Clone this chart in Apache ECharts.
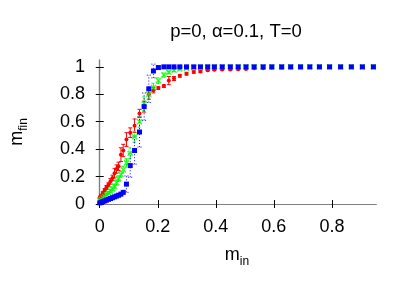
<!DOCTYPE html>
<html>
<head>
<meta charset="utf-8">
<script src="https://cdn.jsdelivr.net/npm/echarts@6/dist/echarts.min.js"></script>
<style>html,body{margin:0;padding:0;background:#fff;}#c{width:411px;height:288px;}</style>
</head>
<body>
<div id="c"></div>
<script>
const mIn = [0, 0.005, 0.011, 0.017, 0.023, 0.03, 0.037, 0.044, 0.051, 0.058, 0.065, 0.073, 0.081, 0.092, 0.105, 0.12, 0.137, 0.153, 0.169, 0.185, 0.202, 0.221, 0.238, 0.256, 0.276, 0.299, 0.324, 0.347, 0.372, 0.395, 0.422, 0.45, 0.477, 0.504, 0.532, 0.563, 0.593, 0.627, 0.658, 0.692, 0.724, 0.757, 0.792, 0.83, 0.867, 0.905, 0.943];
const mRed = [0.05, 0.062, 0.08, 0.1, 0.12, 0.14, 0.165, 0.19, 0.225, 0.255, 0.275, 0.36, 0.39, 0.47, 0.52, 0.57, 0.66, 0.71, 0.8, 0.83, 0.845, 0.86, 0.9, 0.915, 0.935, 0.95, 0.962, 0.966, 0.975, 0.978, 0.98, 0.98, 0.983, 0.985, 0.99, 0.99, 0.993, 0.993, 0.995, 0.995, 0.997, 0.997, 0.998, 0.998, 0.999, 0.999, 1.0];
const errRed = [0.005, 0.008, 0.01, 0.012, 0.015, 0.015, 0.02, 0.02, 0.035, 0.03, 0.03, 0.05, 0.045, 0.05, 0.035, 0.05, 0.03, 0.04, 0.036, 0.02, 0.01, 0.01, 0.03, 0.015, 0.01, 0.01, 0.008, 0.008, 0.005, 0.005, 0.005, 0.005, 0.005, 0.005, 0.003, 0.003, 0.003, 0.003, 0.002, 0.002, 0.002, 0.002, 0.001, 0.001, 0.001, 0.001, 0];
const mGreen = [0.025, 0.035, 0.045, 0.055, 0.068, 0.08, 0.095, 0.11, 0.13, 0.155, 0.185, 0.215, 0.25, 0.3, 0.37, 0.49, 0.6, 0.73, 0.8, 0.85, 0.9, 0.94, 0.96, 0.975, 0.985, 0.99, 0.995, 0.997, 0.998, 0.998, 0.999, 0.999, 0.999, 1, 1, 1, 1, 1, 1, 1, 1, 1, 1, 1, 1, 1, 1];
const errGreen = [0.003, 0.005, 0.005, 0.008, 0.01, 0.01, 0.012, 0.015, 0.015, 0.02, 0.02, 0.02, 0.025, 0.03, 0.04, 0.04, 0.04, 0.05, 0.04, 0.03, 0.02, 0.015, 0.01, 0.01, 0.005, 0.005, 0.003, 0.002, 0, 0, 0, 0, 0, 0, 0, 0, 0, 0, 0, 0, 0, 0, 0, 0, 0, 0, 0];
const mBlue = [0.008, 0.012, 0.018, 0.023, 0.028, 0.034, 0.04, 0.046, 0.052, 0.058, 0.064, 0.072, 0.085, 0.145, 0.28, 0.39, 0.525, 0.71, 0.84, 0.97, 0.995, 1, 1, 1, 1, 1, 1, 1, 1, 1, 1, 1, 1, 1, 1, 1, 1, 1, 1, 1, 1, 1, 1, 1, 1, 1, 1];
const errBlue = [0.003, 0.003, 0.004, 0.004, 0.005, 0.005, 0.005, 0.006, 0.006, 0.007, 0.007, 0.008, 0.01, 0.06, 0.085, 0.1, 0.11, 0.1, 0.1, 0.05, 0.01, 0, 0, 0, 0, 0, 0, 0, 0, 0, 0, 0, 0, 0, 0, 0, 0, 0, 0, 0, 0, 0, 0, 0, 0, 0, 0];
const xTicks = [0, 0.2, 0.4, 0.6, 0.8];
const yTicks = [0, 0.2, 0.4, 0.6, 0.8, 1];
const titleText = 'p=0, \u03b1=0.1, T=0';

const FONT = 'Liberation Sans, Arial, Helvetica, sans-serif';
const X_MIN = -0.006, X_MAX = 0.952, Y_MIN = 0, Y_MAX = 1.05;

function errSeries(ys, es, color, dash) {
  return {
    type: 'custom', xAxisIndex: 0, yAxisIndex: 0, clip: true, silent: true,
    data: mIn.map((x, i) => [x, ys[i] - es[i], ys[i] + es[i], es[i]]),
    renderItem: function (params, api) {
      if (api.value(3) <= 0) return { type: 'group', children: [] };
      const x = api.value(0);
      const lo = api.coord([x, api.value(1)]);
      const hi = api.coord([x, api.value(2)]);
      const w = 2;
      const st = { stroke: color, lineWidth: 1, lineDash: dash };
      return { type: 'group', children: [
        { type: 'line', shape: { x1: lo[0], y1: lo[1], x2: hi[0], y2: hi[1] }, style: st },
        { type: 'line', shape: { x1: lo[0] - w, y1: lo[1], x2: lo[0] + w, y2: lo[1] }, style: st },
        { type: 'line', shape: { x1: hi[0] - w, y1: hi[1], x2: hi[0] + w, y2: hi[1] }, style: st }
      ] };
    }
  };
}
function pts(ys, color, symbol, size, extra) {
  return Object.assign({
    type: 'scatter', xAxisIndex: 0, yAxisIndex: 0,
    data: mIn.map((x, i) => [x, ys[i]]),
    symbol: symbol, symbolSize: size,
    itemStyle: { color: color, opacity: 1 }
  }, extra || {});
}
const nameRich = {
  a: { fontSize: 18, fontFamily: FONT, color: '#000', lineHeight: 26, verticalAlign: 'middle' },
  b: { fontSize: 12, fontFamily: FONT, color: '#000', lineHeight: 12, verticalAlign: 'bottom' }
};

const axisLineStyle = { color: '#7f7f7f', width: 1.2 };
const chart = echarts.init(document.getElementById('c'), null, { renderer: 'canvas' });
chart.setOption({
  animation: false,
  backgroundColor: '#fff',
  grid: { left: 97, right: 35, top: 60, bottom: 84 },
  graphic: [{
    type: 'text', x: 236, y: 32,
    style: { text: titleText, textAlign: 'center', textVerticalAlign: 'middle', font: '18.5px ' + FONT, fill: '#000' }
  }],
  xAxis: [{
    type: 'value', min: X_MIN, max: X_MAX, position: 'bottom',
    axisLine: { show: true, lineStyle: axisLineStyle },
    axisTick: { show: true, inside: true, length: 4, customValues: xTicks, lineStyle: { color: '#000' } },
    axisLabel: { show: true, customValues: xTicks, margin: 14, fontSize: 18, fontFamily: FONT, color: '#000', formatter: v => String(+v.toFixed(1)) },
    splitLine: { show: false },
    name: '{a|m}{b|in}', nameLocation: 'middle', nameGap: 38,
    nameTextStyle: { rich: nameRich }
  }, {
    type: 'value', min: X_MIN, max: X_MAX, position: 'top',
    axisLine: { show: true, lineStyle: axisLineStyle },
    axisTick: { show: true, inside: true, length: 4, customValues: xTicks, lineStyle: { color: '#000' } },
    axisLabel: { show: false }, splitLine: { show: false }
  }],
  yAxis: [{
    type: 'value', min: Y_MIN, max: Y_MAX, position: 'left',
    axisLine: { show: true, lineStyle: axisLineStyle },
    axisTick: { show: true, inside: true, length: 4, customValues: yTicks, lineStyle: { color: '#000' } },
    axisLabel: { show: true, customValues: yTicks, margin: 13, fontSize: 18, fontFamily: FONT, color: '#000', formatter: v => String(+v.toFixed(1)) },
    splitLine: { show: false },
    name: '{a|m}{b|fin}', nameLocation: 'middle', nameGap: 68, nameRotate: 90,
    nameTextStyle: { rich: nameRich }
  }, {
    type: 'value', min: Y_MIN, max: Y_MAX, position: 'right',
    axisLine: { show: true, lineStyle: axisLineStyle },
    axisTick: { show: true, inside: true, length: 4, customValues: yTicks, lineStyle: { color: '#000' } },
    axisLabel: { show: false }, splitLine: { show: false }
  }],
  series: [
    errSeries(mRed, errRed, '#ff0000', null),
    pts(mRed, '#ff0000', 'circle', 4),
    errSeries(mGreen, errGreen, '#00ff00', [3, 2]),
    pts(mGreen, '#00ff00', 'path://M0,0L10,10M10,0L0,10', 5, { itemStyle: { color: 'rgba(0,0,0,0)', borderColor: '#00ff00', borderWidth: 1.5 } }),
    errSeries(mBlue, errBlue, '#0000ff', [1, 2]),
    pts(mBlue, '#0000ff', 'rect', 5)
  ]
});
</script>
</body>
</html>
